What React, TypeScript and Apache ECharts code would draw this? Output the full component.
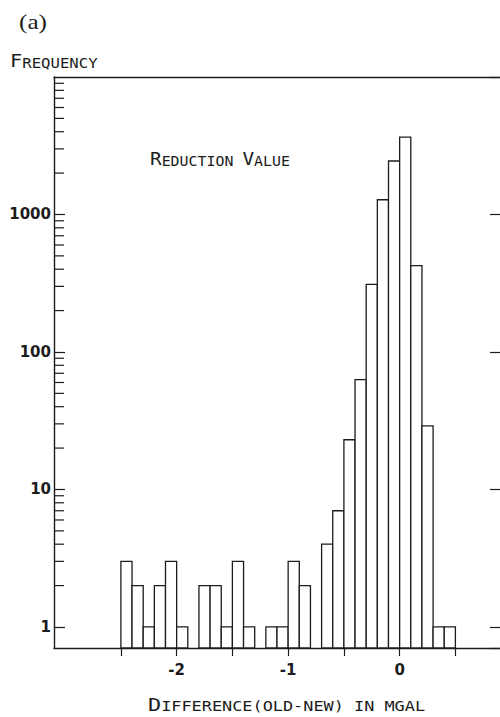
import React, { useEffect, useRef } from "react";
import * as echarts from "echarts";

// Histogram of gravity reduction differences: left edge of each 0.1 mGal bin
const binStarts = [
  -2.5, -2.4, -2.3, -2.2, -2.1, -2.0, -1.9, -1.8, -1.7, -1.6,
  -1.5, -1.4, -1.3, -1.2, -1.1, -1.0, -0.9, -0.8, -0.7, -0.6,
  -0.5, -0.4, -0.3, -0.2, -0.1, 0.0, 0.1, 0.2, 0.3, 0.4,
];
// Number of stations falling in each bin
const counts = [
  3, 2, 1, 2, 3, 1, 0, 2, 2, 1,
  3, 1, 0, 1, 1, 3, 2, 0, 4, 7,
  23, 63, 310, 1280, 2450, 3650, 425, 29, 1, 1,
];
const BIN_WIDTH = 0.1;

// Axis extents and tick positions
const X_MIN = -3.1;
const X_MAX = 0.9;
const Y_MIN = 0.703;
const Y_MAX = 10000;
const xTickValues = [-2.5, -2, -1.5, -1, -0.5, 0, 0.5];
const xLabelValues = [-2, -1, 0];
const minorTickValues = [
  2, 3, 4, 5, 6, 7, 8, 9,
  20, 30, 40, 50, 60, 70, 80, 90,
  200, 300, 400, 500, 600, 700, 800, 900,
  2000, 3000, 4000, 5000, 6000, 7000, 8000, 9000,
];

const INK = "#1c1c1c";
const MONO = "DejaVu Sans Mono";
const BIG = 17.5;
const SMALL = 13.5;

const capsStyles = {
  b: { fontSize: BIG, fontFamily: MONO, fill: INK, verticalAlign: "bottom" },
  s: { fontSize: SMALL, fontFamily: MONO, fill: INK, verticalAlign: "bottom" },
  p: { fontSize: 21, fontFamily: "Liberation Serif", fill: INK, verticalAlign: "bottom" },
};

function label(x: number, y: number, text: string, scaleX: number) {
  return {
    type: "text",
    x,
    y,
    scaleX,
    silent: true,
    style: {
      text,
      rich: capsStyles,
      align: "left",
      verticalAlign: "bottom",
      textAlign: "left",
      textVerticalAlign: "bottom",
    },
  };
}

export default function App() {
  const ref = useRef<HTMLDivElement>(null);

  useEffect(() => {
    const chart = echarts.init(ref.current!, null, { renderer: "svg" });

    const bins = binStarts
      .map((s, i) => [s, s + BIN_WIDTH, counts[i]])
      .filter((d) => d[2] > 0);

    const lineStyle = { color: INK, width: 1.4 };
    const labelFont = {
      color: INK,
      fontFamily: "DejaVu Sans",
      fontWeight: "bold",
      fontSize: 15,
    };

    chart.setOption({
      animation: false,
      backgroundColor: "#ffffff",
      grid: { left: 54, right: 0, top: 77, bottom: 69 },
      xAxis: [
        {
          type: "value",
          position: "bottom",
          min: X_MIN,
          max: X_MAX,
          axisLine: { show: true, onZero: false, lineStyle },
          axisTick: {
            show: true,
            inside: false,
            length: 8,
            customValues: xTickValues,
            lineStyle: { color: INK, width: 1.2 },
          },
          axisLabel: {
            customValues: xLabelValues,
            formatter: (v: number) => String(v),
            margin: 14,
            ...labelFont,
          },
          splitLine: { show: false },
        },
        {
          type: "value",
          position: "top",
          min: X_MIN,
          max: X_MAX,
          axisLine: { show: true, onZero: false, lineStyle },
          axisTick: { show: false },
          axisLabel: { show: false },
          splitLine: { show: false },
        },
      ],
      yAxis: [
        {
          type: "log",
          logBase: 10,
          position: "left",
          min: Y_MIN,
          max: Y_MAX,
          axisLine: { show: true, onZero: false, lineStyle },
          axisTick: {
            show: true,
            inside: true,
            length: 11,
            lineStyle: { color: INK, width: 1.2 },
          },
          axisLabel: {
            showMinLabel: false,
            showMaxLabel: false,
            formatter: (v: number) => String(Math.round(v)),
            margin: 3,
            ...labelFont,
          },
          splitLine: { show: false },
        },
        {
          type: "log",
          logBase: 10,
          position: "right",
          min: Y_MIN,
          max: Y_MAX,
          axisLine: { show: false, onZero: false },
          axisTick: {
            show: true,
            inside: true,
            length: 10,
            lineStyle: { color: INK, width: 1.2 },
          },
          axisLabel: { show: false },
          splitLine: { show: false },
        },
      ],
      series: [
        {
          type: "custom",
          name: "counts",
          xAxisIndex: 0,
          yAxisIndex: 0,
          data: bins,
          encode: { x: [0, 1], y: 2 },
          renderItem: (_params: any, api: any) => {
            const topLeft = api.coord([api.value(0), api.value(2)]);
            const bottomRight = api.coord([api.value(1), Y_MIN]);
            return {
              type: "rect",
              shape: {
                x: topLeft[0],
                y: topLeft[1],
                width: bottomRight[0] - topLeft[0],
                height: bottomRight[1] - topLeft[1],
              },
              style: { fill: "#ffffff", stroke: INK, lineWidth: 1.3 },
            };
          },
        },
        {
          type: "custom",
          name: "minor ticks",
          xAxisIndex: 0,
          yAxisIndex: 0,
          data: minorTickValues.map((v) => [X_MIN, v]),
          encode: { x: 0, y: 1 },
          renderItem: (_params: any, api: any) => {
            const p = api.coord([api.value(0), api.value(1)]);
            return {
              type: "line",
              shape: { x1: p[0], y1: p[1], x2: p[0] + 10, y2: p[1] },
              style: { stroke: INK, lineWidth: 1.2 },
            };
          },
        },
      ],
      graphic: [
        label(19, 32, "{p|(a)}", 1.2),
        label(10, 70, "{b|F}{s|REQUENCY}", 1.16),
        label(150, 168, "{b|R}{s|EDUCTION }{b|V}{s|ALUE}", 1.105),
        label(148, 714, "{b|D}{s|IFFERENCE(OLD-NEW) IN MGAL}", 1.25),
      ],
    });

    return () => chart.dispose();
  }, []);

  return (
    <div
      ref={ref}
      style={{ position: "absolute", left: 0, top: 0, width: 500, height: 717 }}
    />
  );
}
